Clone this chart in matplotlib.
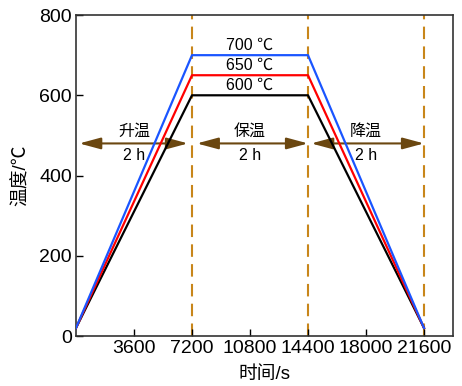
import numpy as np
import matplotlib.pyplot as plt

plt.rcParams['font.family'] = ['Liberation Sans', 'Noto Sans CJK SC']

# heating schedule: ramp up 2 h, hold 2 h, cool down 2 h
time_s = [0, 7200, 14400, 21600]
temp_600 = [20, 600, 600, 20]
temp_650 = [20, 650, 650, 20]
temp_700 = [20, 700, 700, 20]
hold_labels = ['600 ℃', '650 ℃', '700 ℃']

stage_names = ['升温', '保温', '降温']
stage_start = [200, 7500, 14600]
stage_end = [6950, 14400, 21600]
stage_mid = [3600, 10800, 18000]

xticks = [3600, 7200, 10800, 14400, 18000, 21600]
yticks = [0, 200, 400, 600, 800]

fig = plt.figure(figsize=(4.62, 3.86), dpi=100)
ax = fig.add_axes([0.1645, 0.1295, 0.816, 0.8315])

for xv in time_s[1:]:
    ax.axvline(xv, color='#c8861a', lw=1.5, ls=(0, (6, 3.5)), zorder=1)

ax.plot(time_s, temp_600, color='black', lw=1.6, zorder=3)
ax.plot(time_s, temp_650, color='#ff0000', lw=1.6, zorder=3)
ax.plot(time_s, temp_700, color='#1a55ff', lw=1.6, zorder=3)

for lab, yv in zip(hold_labels, [600, 650, 700]):
    ax.text(10800, yv + 6, lab, ha='center', va='bottom', fontsize=11.5)

# stage arrows
for name, x0, x1, xm in zip(stage_names, stage_start, stage_end, stage_mid):
    ax.annotate('', xy=(x1, 480), xytext=(x0, 480),
                arrowprops=dict(arrowstyle='<|-|>,head_length=1.3,head_width=0.35',
                                color='#6b4710', lw=1.5, shrinkA=0, shrinkB=0),
                zorder=2)
    ax.text(xm, 510, name, ha='center', va='center', fontsize=11.5)
    ax.text(xm, 450, '2 h', ha='center', va='center', fontsize=11.5)

ax.set_xlim(0, 23400)
ax.set_ylim(0, 800)
ax.set_xticks(xticks)
ax.set_yticks(yticks)
ax.tick_params(direction='in', length=5, width=1, labelsize=14, pad=3)
ax.set_xlabel('时间/s', fontsize=13.5, labelpad=6)
ax.set_ylabel('温度/℃', fontsize=13.5, labelpad=7)
for sp in ax.spines.values():
    sp.set_linewidth(1.2)
    sp.set_color('#333333')

plt.savefig('out.png', dpi=100)
